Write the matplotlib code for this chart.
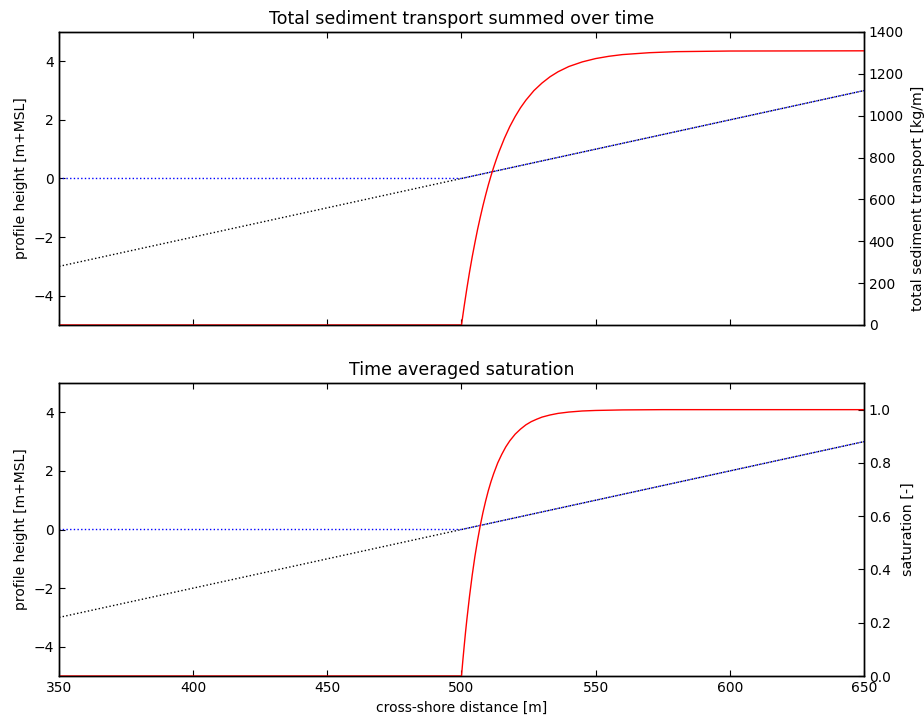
import matplotlib
matplotlib.use("Agg")
import matplotlib.pyplot as plt

# bed profile and water level along the cross-shore transect
x_bed = [350, 650]
z_bed = [-3.0, 3.0]
x_water = [350, 500, 650]
z_water = [0.0, 0.0, 3.0]

# total sediment transport summed over time [kg/m]
x_transport = [350, 500, 501, 502, 503, 504, 505, 506, 507, 508, 509, 510,
               511, 512, 513, 514, 516, 518, 520, 522, 524, 527, 530, 533,
               536, 540, 545, 550, 555, 560, 570, 580, 600, 650]
transport = [0, 0, 90, 174, 253, 326, 393, 457, 515, 570, 621, 669,
             713, 754, 792, 828, 892, 948, 996, 1038, 1074, 1120, 1156, 1186,
             1210, 1235, 1257, 1273, 1284, 1292, 1301, 1306, 1309, 1310]

# time averaged saturation [-]
x_saturation = [350, 500, 500.5, 501, 501.5, 502, 503, 504, 505, 506, 507,
                508, 509, 510, 511, 512, 513.5, 515, 516.5, 518, 520, 522,
                524, 526, 528, 530, 533, 536, 540, 545, 550, 560, 575, 650]
saturation = [0.0, 0.0, 0.058, 0.112, 0.164, 0.212, 0.300, 0.379, 0.449,
              0.510, 0.565, 0.614, 0.657, 0.696, 0.730, 0.760, 0.800, 0.832,
              0.860, 0.883, 0.908, 0.927, 0.943, 0.955, 0.964, 0.972, 0.980,
              0.986, 0.991, 0.995, 0.997, 0.999, 1.0, 1.0]

plt.rcParams.update({
    "font.family": "DejaVu Sans",
    "font.size": 10,
    "xtick.direction": "in",
    "ytick.direction": "in",
    "xtick.top": True,
    "xtick.major.size": 4,
    "ytick.major.size": 4,
    "axes.linewidth": 1.0,
    "lines.linewidth": 1.0,
})

fig = plt.figure(figsize=(9.24, 7.22), dpi=100)
ax1 = fig.add_axes([0.0639, 0.5499, 0.8711, 0.4058])
ax2 = fig.add_axes([0.0639, 0.0637, 0.8711, 0.4058], sharex=ax1)

panels = [
    (ax1, x_transport, transport, "Total sediment transport summed over time",
     "total sediment transport [kg/m]", (0, 1400)),
    (ax2, x_saturation, saturation, "Time averaged saturation",
     "saturation [-]", (0, 1.1)),
]

right_axes = []
for ax, xs, ys, title, rlabel, rlim in panels:
    ax.plot(x_bed, z_bed, "k:")
    ax.plot(x_water, z_water, "b:")
    ax.set_ylim(-5, 5)
    ax.set_yticks([-4, -2, 0, 2, 4])
    ax.set_yticklabels(["\u22124", "\u22122", "0", "2", "4"])
    ax.set_ylabel("profile height [m+MSL]", fontsize=10)
    ax.set_title(title, fontsize=12.5)

    axr = ax.twinx()
    axr.plot(xs, ys, "r-")
    axr.set_ylim(*rlim)
    right_axes.append(axr)

right_axes[0].set_ylabel("total sediment transport [kg/m]", fontsize=10.2)
right_axes[0].yaxis.set_label_coords(1.058, 0.433)
right_axes[1].set_ylabel("saturation [-]", fontsize=10.2, labelpad=7)

ax1.set_xlim(350, 650)
ax1.set_xticks([350, 400, 450, 500, 550, 600, 650])
ax1.tick_params(labelbottom=False)
ax2.set_xlabel("cross-shore distance [m]", fontsize=10)

fig.savefig("out.png", dpi=100, facecolor="white")
